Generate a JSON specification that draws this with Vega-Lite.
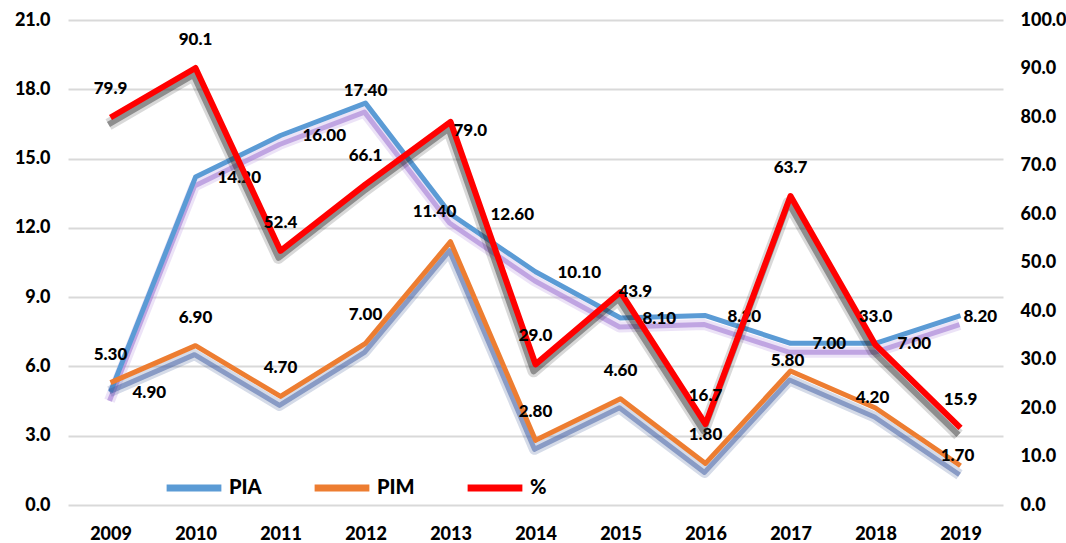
{
  "$schema": "https://vega.github.io/schema/vega-lite/v6.json",
  "width": 935,
  "height": 485,
  "autosize": {"type": "none"},
  "padding": {"left": 68, "top": 20, "right": 63, "bottom": 38},
  "background": "white",
  "config": {
    "view": {"stroke": null},
    "font": "Lato",
    "axis": {"labelFont": "Lato", "labelFontWeight": 900, "labelColor": "#000000", "labelFontSize": 18, "domain": false, "ticks": false, "title": null},
    "legend": {
      "orient": "none", "legendX": 95, "legendY": 437, "direction": "horizontal",
      "symbolType": "stroke", "symbolSize": 3000, "symbolStrokeWidth": 7,
      "labelFontSize": 20, "labelFontWeight": 900, "labelColor": "#000000", "labelFont": "Lato",
      "columnPadding": 38, "labelOffset": 4, "title": null
    }
  },
  "data": {"values": [
    {"year": "2009", "series": "PIA", "value": 4.9},
    {"year": "2010", "series": "PIA", "value": 14.2},
    {"year": "2011", "series": "PIA", "value": 16.0},
    {"year": "2012", "series": "PIA", "value": 17.4},
    {"year": "2013", "series": "PIA", "value": 12.6},
    {"year": "2014", "series": "PIA", "value": 10.1},
    {"year": "2015", "series": "PIA", "value": 8.1},
    {"year": "2016", "series": "PIA", "value": 8.2},
    {"year": "2017", "series": "PIA", "value": 7.0},
    {"year": "2018", "series": "PIA", "value": 7.0},
    {"year": "2019", "series": "PIA", "value": 8.2},
    {"year": "2009", "series": "PIM", "value": 5.3},
    {"year": "2010", "series": "PIM", "value": 6.9},
    {"year": "2011", "series": "PIM", "value": 4.7},
    {"year": "2012", "series": "PIM", "value": 7.0},
    {"year": "2013", "series": "PIM", "value": 11.4},
    {"year": "2014", "series": "PIM", "value": 2.8},
    {"year": "2015", "series": "PIM", "value": 4.6},
    {"year": "2016", "series": "PIM", "value": 1.8},
    {"year": "2017", "series": "PIM", "value": 5.8},
    {"year": "2018", "series": "PIM", "value": 4.2},
    {"year": "2019", "series": "PIM", "value": 1.7},
    {"year": "2009", "series": "%", "value": 79.9},
    {"year": "2010", "series": "%", "value": 90.1},
    {"year": "2011", "series": "%", "value": 52.4},
    {"year": "2012", "series": "%", "value": 66.1},
    {"year": "2013", "series": "%", "value": 79.0},
    {"year": "2014", "series": "%", "value": 29.0},
    {"year": "2015", "series": "%", "value": 43.9},
    {"year": "2016", "series": "%", "value": 16.7},
    {"year": "2017", "series": "%", "value": 63.7},
    {"year": "2018", "series": "%", "value": 33.0},
    {"year": "2019", "series": "%", "value": 15.9}
  ]},
  "encoding": {
    "x": {"field": "year", "type": "ordinal", "sort": null, "scale": {"type": "point", "padding": 0.5},
      "axis": {"labelAngle": 0, "labelPadding": 20, "grid": false}}
  },
  "layer": [
    {
      "transform": [{"filter": "datum.series !== '%'"}],
      "encoding": {
        "y": {"field": "value", "type": "quantitative", "scale": {"domain": [0, 21], "nice": false},
          "axis": {"orient": "left", "values": [0, 3, 6, 9, 12, 15, 18, 21], "format": ".1f", "grid": true, "gridColor": "#d9d9d9", "gridWidth": 2, "labelPadding": 18}}
      },
      "layer": [
        {"transform": [{"filter": "datum.series === 'PIA'"}], "mark": {"type": "line", "color": "#b58fe0", "strokeWidth": 11, "opacity": 0.25, "yOffset": 9, "xOffset": -1, "strokeJoin": "round"}},
        {"transform": [{"filter": "datum.series === 'PIA'"}], "mark": {"type": "line", "color": "#a47cd4", "strokeWidth": 5, "opacity": 0.6, "yOffset": 9, "xOffset": -1, "strokeJoin": "round"}},
        {"transform": [{"filter": "datum.series === 'PIA'"}], "mark": {"type": "line", "strokeWidth": 5, "strokeJoin": "round"},
          "encoding": {"color": {"field": "series", "type": "nominal", "scale": {"domain": ["PIA", "PIM", "%"], "range": ["#5B9BD5", "#ED7D31", "#FF0000"]}, "legend": {"title": null}}}},
        {"transform": [{"filter": "datum.series === 'PIM'"}], "mark": {"type": "line", "color": "#2c4a8c", "strokeWidth": 11, "opacity": 0.2, "yOffset": 9, "xOffset": -1, "strokeJoin": "round"}},
        {"transform": [{"filter": "datum.series === 'PIM'"}], "mark": {"type": "line", "color": "#4a66a8", "strokeWidth": 5, "opacity": 0.55, "yOffset": 9, "xOffset": -1, "strokeJoin": "round"}},
        {"transform": [{"filter": "datum.series === 'PIM'"}], "mark": {"type": "line", "strokeWidth": 5, "strokeJoin": "round"},
          "encoding": {"color": {"field": "series", "type": "nominal", "scale": {"domain": ["PIA", "PIM", "%"], "range": ["#5B9BD5", "#ED7D31", "#FF0000"]}, "legend": {"title": null}}}},
        {"transform": [{"filter": "datum.series === 'PIA' && indexof(['2012','2013','2019'], datum.year) < 0"}],
          "mark": {"type": "text", "align": "left", "baseline": "middle", "dx": 22, "dy": 1, "fontSize": 17, "fontWeight": 900, "color": "#000000"},
          "encoding": {"text": {"field": "value", "type": "quantitative", "format": ".2f"}}},
        {"transform": [{"filter": "datum.series === 'PIA' && datum.year === '2012'"}],
          "mark": {"type": "text", "align": "center", "baseline": "middle", "dy": -12, "fontSize": 17, "fontWeight": 900, "color": "#000000"},
          "encoding": {"text": {"field": "value", "type": "quantitative", "format": ".2f"}}},
        {"transform": [{"filter": "datum.series === 'PIA' && datum.year === '2013'"}],
          "mark": {"type": "text", "align": "left", "baseline": "middle", "dx": 40, "dy": 1, "fontSize": 17, "fontWeight": 900, "color": "#000000"},
          "encoding": {"text": {"field": "value", "type": "quantitative", "format": ".2f"}}},
        {"transform": [{"filter": "datum.series === 'PIA' && datum.year === '2019'"}],
          "mark": {"type": "text", "align": "left", "baseline": "middle", "dx": 3, "dy": 1, "fontSize": 17, "fontWeight": 900, "color": "#000000"},
          "encoding": {"text": {"field": "value", "type": "quantitative", "format": ".2f"}}},
        {"transform": [{"filter": "datum.series === 'PIM' && indexof(['2013','2017','2018','2019'], datum.year) < 0"}],
          "mark": {"type": "text", "align": "center", "baseline": "middle", "dy": -28, "fontSize": 17, "fontWeight": 900, "color": "#000000"},
          "encoding": {"text": {"field": "value", "type": "quantitative", "format": ".2f"}}},
        {"transform": [{"filter": "datum.series === 'PIM' && datum.year === '2013'"}],
          "mark": {"type": "text", "align": "center", "baseline": "middle", "dx": -16, "dy": -30, "fontSize": 17, "fontWeight": 900, "color": "#000000"},
          "encoding": {"text": {"field": "value", "type": "quantitative", "format": ".2f"}}},
        {"transform": [{"filter": "datum.series === 'PIM' && indexof(['2017','2018','2019'], datum.year) >= 0"}],
          "mark": {"type": "text", "align": "center", "baseline": "middle", "dx": -3, "dy": -10, "fontSize": 17, "fontWeight": 900, "color": "#000000"},
          "encoding": {"text": {"field": "value", "type": "quantitative", "format": ".2f"}}}
      ]
    },
    {
      "transform": [{"filter": "datum.series === '%'"}],
      "encoding": {
        "y": {"field": "value", "type": "quantitative", "scale": {"domain": [0, 100], "nice": false},
          "axis": {"orient": "right", "values": [0, 10, 20, 30, 40, 50, 60, 70, 80, 90, 100], "format": ".1f", "grid": false, "labelPadding": 17}}
      },
      "layer": [
        {"mark": {"type": "line", "color": "#000000", "strokeWidth": 12, "opacity": 0.15, "yOffset": 7, "xOffset": -2, "strokeJoin": "round"}},
        {"mark": {"type": "line", "color": "#333333", "strokeWidth": 6, "opacity": 0.45, "yOffset": 7, "xOffset": -2, "strokeJoin": "round"}},
        {"mark": {"type": "line", "strokeWidth": 6, "strokeJoin": "round"},
          "encoding": {"color": {"field": "series", "type": "nominal", "scale": {"domain": ["PIA", "PIM", "%"], "range": ["#5B9BD5", "#ED7D31", "#FF0000"]}, "legend": {"title": null}}}},
        {"transform": [{"filter": "indexof(['2013','2015'], datum.year) < 0"}],
          "mark": {"type": "text", "align": "center", "baseline": "middle", "dy": -28, "fontSize": 17, "fontWeight": 900, "color": "#000000"},
          "encoding": {"text": {"field": "value", "type": "quantitative", "format": ".1f"}}},
        {"transform": [{"filter": "datum.year === '2013'"}],
          "mark": {"type": "text", "align": "left", "baseline": "middle", "dx": 3, "dy": 9, "fontSize": 17, "fontWeight": 900, "color": "#000000"},
          "encoding": {"text": {"field": "value", "type": "quantitative", "format": ".1f"}}},
        {"transform": [{"filter": "datum.year === '2015'"}],
          "mark": {"type": "text", "align": "left", "baseline": "middle", "dx": -2, "dy": 0, "fontSize": 17, "fontWeight": 900, "color": "#000000"},
          "encoding": {"text": {"field": "value", "type": "quantitative", "format": ".1f"}}}
      ]
    }
  ],
  "resolve": {"scale": {"y": "independent"}}
}
